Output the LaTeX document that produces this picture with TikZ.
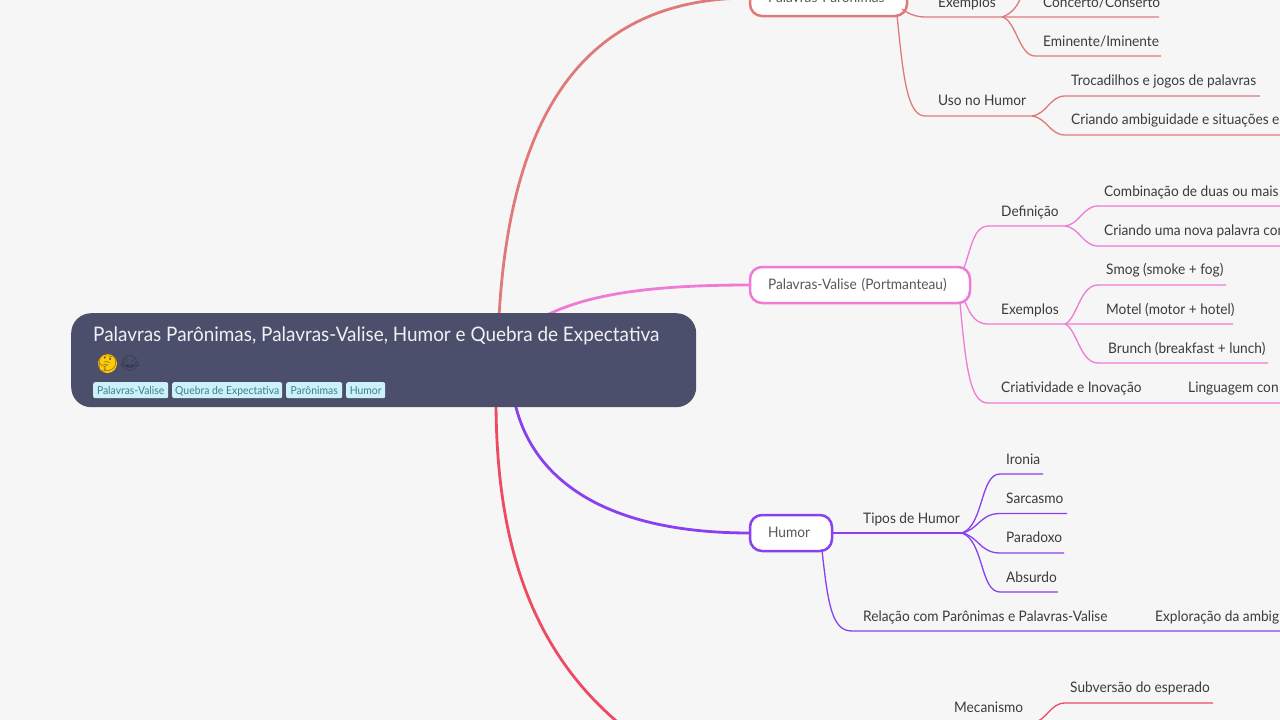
\documentclass[tikz,border=0pt]{standalone}
\usepackage{fontspec}
\setmainfont[FakeStretch=0.945]{Lato}
\newfontfamily\emojifont{Noto Emoji}
\definecolor{bgc}{HTML}{F6F6F6}
\definecolor{rootc}{HTML}{4C4F6B}
\definecolor{tagfill}{HTML}{CDF1F9}
\definecolor{tagtext}{HTML}{3F7C93}
\definecolor{txt}{HTML}{3B3B3B}
\definecolor{salmon}{HTML}{E07A7A}
\definecolor{pinkc}{HTML}{F07BD4}
\definecolor{purp}{HTML}{8A3FF0}
\definecolor{redc}{HTML}{EE4B60}
\tikzset{
  lbl/.style={anchor=base west,inner sep=0pt,font=\fontsize{14.5}{17}\selectfont,text=txt},
  thick branch/.style={line width=2.8pt,draw=#1},
  twig/.style={line width=1.3pt,draw=#1},
  topic/.style={draw=#1,line width=2.5pt,fill=white,rounded corners=12pt,anchor=north west,outer sep=0pt,minimum height=36pt,inner xsep=18pt,inner ysep=0pt,align=left,font=\fontsize{14.5}{17}\selectfont,text=txt!85!white},
  tag/.style={fill=tagfill,rounded corners=2pt,anchor=north west,inner xsep=0pt,inner ysep=0pt,minimum height=16pt,text height=10pt,text depth=0.5pt,font=\fontsize{11}{13}\selectfont,text=tagtext,align=center},
}
\begin{document}
\begin{tikzpicture}[x=1pt,y=-1pt]
\useasboundingbox (0,0) rectangle (1280,720);
\fill[bgc] (0,0) rectangle (1280,720);

% hubs behind the root
\coordinate (hubA) at (498,340);
\coordinate (hubB) at (525,328);
\coordinate (hubC) at (512,385);
\coordinate (hubD) at (496,400);
\coordinate (offred) at (655,750);

% main branches (drawn first: topics sit on their ends)
\coordinate (parw) at (750,-2);
\coordinate (valw) at (750,285);
\coordinate (humw) at (750,533);
\draw[thick branch=salmon] (hubA) .. controls (505,120) and (580,-2) .. (parw);
\draw[thick branch=pinkc] (hubB) .. controls (570,296) and (640,285) .. (valw);
\draw[thick branch=purp] (hubC) .. controls (520,460) and (580,533) .. (humw);
\draw[thick branch=redc] (hubD) .. controls (496,560) and (540,675) .. (offred);

% topic nodes
\node[topic=salmon,text width=121pt] (par) at (750,-20) {\mbox{\raisebox{1pt}{Palavras Parônimas}}};
\node[topic=pinkc,text width=184pt] (val) at (750,267) {\mbox{\raisebox{1pt}{Palavras-Valise (Portmanteau)}}};
\node[topic=purp,text width=46pt] (hum) at (750,515) {\mbox{\raisebox{1pt}{Humor}}};

% Parônimas
\node[lbl] (pex) at (938,7) {Exemplos};
\node[lbl] (pcon) at (1043,7) {Concerto/Conserto};
\node[lbl] (pemi) at (1043,46) {Eminente/Iminente};
\node[lbl] (puso) at (938,105) {Uso no Humor};
\node[lbl] (ptro) at (1071,85.5) {Trocadilhos e jogos de palavras};
\node[lbl] (pcri) at (1071,124.5) {Criando ambiguidade e situações e};
\coordinate (pa) at (902,9);
\coordinate (pb) at (897,15);
\coordinate (pj1) at (1002,17);
\coordinate (pj2) at (1032,116);
\coordinate (ptop) at (1022,-8);
\coordinate (pe1) at (1159,17);
\coordinate (pe2) at (1161,56);
\coordinate (pe3) at (1260,96);
\coordinate (pe4) at (1285,135);
\coordinate (pm1) at (925,17);
\coordinate (pm2) at (925,116);
\coordinate (pm3) at (1035,56);
\coordinate (pm4) at (1065,96);
\coordinate (pm5) at (1065,135);
\begin{scope}[every path/.style={twig=salmon}]
\draw (pa) .. controls +(6,5) and +(-8,0) .. (pm1) -- (pj1) -- (pe1);
\draw (pb) .. controls +(6,60) and +(-18,0) .. (pm2) -- (pj2);
\draw (pj1) .. controls +(10,-3) and +(-2,12) .. (ptop);
\draw (pj1) .. controls +(14,3) and +(-16,0) .. (pm3) -- (pe2);
\draw (pj2) .. controls +(15,-2) and +(-15,0) .. (pm4) -- (pe3);
\draw (pj2) .. controls +(15,2) and +(-15,0) .. (pm5) -- (pe4);
\end{scope}

% Valise
\node[lbl] (vdef) at (1001,216) {Definição};
\node[lbl] (vc1) at (1104,196) {Combinação de duas ou mais};
\node[lbl] (vc2) at (1104,235) {Criando uma nova palavra con};
\node[lbl] (vex) at (1001,314) {Exemplos};
\node[lbl] (vs) at (1106,274) {Smog (smoke + fog)};
\node[lbl] (vm) at (1106,314) {Motel (motor + hotel)};
\node[lbl] (vb) at (1108,353) {Brunch (breakfast + lunch)};
\node[lbl] (vcr) at (1001,392) {Criatividade e Inovação};
\node[lbl] (vl) at (1188,392) {Linguagem con};
\coordinate (va) at (964,268);
\coordinate (vb0) at (965,302);
\coordinate (vc0) at (960,303);
\coordinate (vm1) at (988,226);
\coordinate (vm2) at (988,324);
\coordinate (vm3) at (988,403);
\coordinate (vj1) at (1065,226);
\coordinate (vj2) at (1065,324);
\coordinate (vt1) at (1098,206);
\coordinate (vt2) at (1098,246);
\coordinate (vt3) at (1098,285);
\coordinate (vt4) at (1098,363);
\coordinate (ve1) at (1285,206);
\coordinate (ve2) at (1285,246);
\coordinate (ve3) at (1226,285);
\coordinate (ve4) at (1233,324);
\coordinate (ve5) at (1268,363);
\coordinate (ve6) at (1285,403);
\begin{scope}[every path/.style={twig=pinkc}]
\draw (va) .. controls +(7,-20) and +(-14,0) .. (vm1) -- (vj1);
\draw (vb0) .. controls +(6,14) and +(-12,0) .. (vm2) -- (vj2) -- (ve4);
\draw (vc0) .. controls +(6,65) and +(-18,0) .. (vm3) -- (ve6);
\draw (vj1) .. controls +(15,-2) and +(-15,0) .. (vt1) -- (ve1);
\draw (vj1) .. controls +(15,2) and +(-15,0) .. (vt2) -- (ve2);
\draw (vj2) .. controls +(12,-5) and +(-18,0) .. (vt3) -- (ve3);
\draw (vj2) .. controls +(12,5) and +(-18,0) .. (vt4) -- (ve5);
\end{scope}

% Humor
\node[lbl] (ht) at (863,523) {Tipos de Humor};
\node[lbl] (hi) at (1006,464) {Ironia};
\node[lbl] (hs) at (1006,503) {Sarcasmo};
\node[lbl] (hp) at (1006,542) {Paradoxo};
\node[lbl] (ha) at (1006,582) {Absurdo};
\node[lbl] (hr) at (863,621) {Relação com Parônimas e Palavras-Valise};
\node[lbl] (hx) at (1155,621) {Exploração da ambig};
\coordinate (hj) at (962,533);
\coordinate (hb0) at (822,550);
\coordinate (hm) at (852,631);
\coordinate (ht1) at (1000,474);
\coordinate (ht2) at (1000,513.5);
\coordinate (ht3) at (1000,553);
\coordinate (ht4) at (1000,592);
\coordinate (he1) at (1043,474);
\coordinate (he2) at (1067,513.5);
\coordinate (he3) at (1064,553);
\coordinate (he4) at (1058,592);
\coordinate (he5) at (1285,631);
\begin{scope}[every path/.style={twig=purp}]
\draw (hum.east) -- (hj);
\draw (hb0) .. controls +(6,55) and +(-20,0) .. (hm) -- (he5);
\draw (hj) .. controls +(22,-8) and +(-20,0) .. (ht1) -- (he1);
\draw (hj) .. controls +(16,-3) and +(-20,0) .. (ht2) -- (he2);
\draw (hj) .. controls +(16,3) and +(-20,0) .. (ht3) -- (he3);
\draw (hj) .. controls +(22,8) and +(-20,0) .. (ht4) -- (he4);
\end{scope}

% Quebra
\node[lbl] (qm) at (954,712) {Mecanismo};
\node[lbl] (qs) at (1070,692) {Subversão do esperado};
\coordinate (qj) at (1032,723);
\coordinate (qt) at (1065,703);
\coordinate (qe) at (1213,703);
\draw[twig=redc] (qj) .. controls +(15,-2) and +(-15,0) .. (qt) -- (qe);

% Root
\node[fill=rootc,rounded corners=20pt,anchor=north west,minimum width=625pt,minimum height=94pt,inner sep=0pt] (root) at (71,313) {};
\node[anchor=base west,inner sep=0pt,text=white!92!rootc,font=\fontsize{20}{24}\selectfont] (title) at (93,341) {Palavras Parônimas, Palavras-Valise, Humor e Quebra de Expectativa};
\node[circle,fill=yellow!65!orange,minimum size=19pt,inner sep=0pt,text=brown!70!black,font=\emojifont\fontsize{17}{20}\selectfont] (em1) at (107.5,363.5) {\makebox[0pt]{\smash{\raisebox{-5pt}{🤔}}}};
\node[anchor=center,inner sep=0pt,text=rootc!65!black,font=\emojifont\fontsize{15}{18}\selectfont] (em2) at (130,363.5) {😂};
\node[tag,minimum width=75pt] (t1) at (93,382) {Palavras-Valise};
\node[tag,minimum width=110pt] (t2) at (172,382) {Quebra de Expectativa};
\node[tag,minimum width=56pt] (t3) at (286,382) {Parônimas};
\node[tag,minimum width=39pt] (t4) at (346,382) {Humor};
\end{tikzpicture}
\end{document}
